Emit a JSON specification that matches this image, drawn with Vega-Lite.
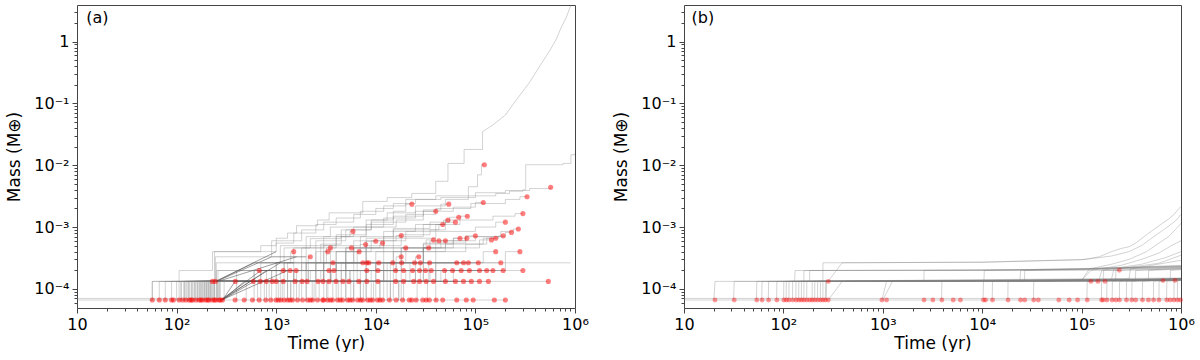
{
"$schema":"https://vega.github.io/schema/vega-lite/v6.json",
"padding":{"left":5,"top":3,"right":0,"bottom":0},
"autosize":{"type":"pad"},
"bounds":"flush",
"spacing":109,
"config":{"font":"DejaVu Sans","view":{"stroke":"#444","strokeWidth":1},
 "axis":{"labelFontSize":16,"titleFontSize":17,"titleFontWeight":"normal","labelColor":"#000","titleColor":"#000","tickColor":"#444","domain":false,"grid":false,"labelPadding":3,"labelFlush":false,"labelOverlap":false,"labelBound":false},
 "axisX":{"titlePadding":3},"axisY":{"titlePadding":10}},
"datasets":{
"sa":[
{"k":0,"t":10,"m":6.6e-5},{"k":0,"t":200000,"m":6.6e-5},
{"k":99,"t":10,"m":7e-5},{"k":99,"t":290,"m":7e-5},
{"k":1,"t":55,"m":6.6e-5},{"k":1,"t":57,"m":1.32e-4},{"k":1,"t":229,"m":1.32e-4},
{"k":2,"t":65,"m":6.6e-5},{"k":2,"t":67,"m":1.32e-4},{"k":2,"t":245,"m":1.32e-4},
{"k":3,"t":75,"m":6.6e-5},{"k":3,"t":77,"m":1.32e-4},{"k":3,"t":389,"m":1.32e-4},
{"k":4,"t":86,"m":6.6e-5},{"k":4,"t":89,"m":1.32e-4},{"k":4,"t":589,"m":1.32e-4},
{"k":5,"t":105,"m":6.6e-5},{"k":5,"t":110,"m":1.32e-4},{"k":5,"t":692,"m":1.32e-4},
{"k":6,"t":112,"m":6.6e-5},{"k":6,"t":118,"m":1.32e-4},{"k":6,"t":794,"m":1.32e-4},
{"k":7,"t":120,"m":6.6e-5},{"k":7,"t":126,"m":1.32e-4},{"k":7,"t":912,"m":1.32e-4},
{"k":8,"t":130,"m":6.6e-5},{"k":8,"t":135,"m":1.32e-4},{"k":8,"t":1000,"m":1.32e-4},
{"k":9,"t":140,"m":6.6e-5},{"k":9,"t":145,"m":1.32e-4},{"k":9,"t":1175,"m":1.32e-4},
{"k":10,"t":150,"m":6.6e-5},{"k":10,"t":155,"m":1.32e-4},{"k":10,"t":1549,"m":1.32e-4},
{"k":11,"t":160,"m":6.6e-5},{"k":11,"t":165,"m":1.32e-4},{"k":11,"t":1820,"m":1.32e-4},
{"k":12,"t":170,"m":6.6e-5},{"k":12,"t":175,"m":1.32e-4},{"k":12,"t":2042,"m":1.32e-4},
{"k":13,"t":180,"m":6.6e-5},{"k":13,"t":185,"m":1.32e-4},{"k":13,"t":2630,"m":1.32e-4},
{"k":14,"t":190,"m":6.6e-5},{"k":14,"t":195,"m":1.32e-4},{"k":14,"t":2951,"m":1.32e-4},
{"k":15,"t":200,"m":6.6e-5},{"k":15,"t":205,"m":1.32e-4},{"k":15,"t":3388,"m":1.32e-4},
{"k":16,"t":210,"m":6.6e-5},{"k":16,"t":215,"m":1.32e-4},{"k":16,"t":3981,"m":1.32e-4},
{"k":17,"t":220,"m":6.6e-5},{"k":17,"t":225,"m":1.32e-4},{"k":17,"t":4677,"m":1.32e-4},
{"k":18,"t":235,"m":6.6e-5},{"k":18,"t":240,"m":1.32e-4},{"k":18,"t":5370,"m":1.32e-4},
{"k":19,"t":250,"m":6.6e-5},{"k":19,"t":255,"m":1.32e-4},{"k":19,"t":6761,"m":1.32e-4},
{"k":20,"t":265,"m":6.6e-5},{"k":20,"t":270,"m":1.32e-4},{"k":20,"t":8128,"m":1.32e-4},
{"k":21,"t":740,"m":6.6e-5},{"k":21,"t":760,"m":1.32e-4},{"k":21,"t":10500,"m":1.32e-4},
{"k":22,"t":1000,"m":6.6e-5},{"k":22,"t":1050,"m":1.32e-4},{"k":22,"t":15800,"m":1.32e-4},
{"k":23,"t":1350,"m":6.6e-5},{"k":23,"t":1400,"m":1.32e-4},{"k":23,"t":19000,"m":1.32e-4},
{"k":24,"t":2200,"m":6.6e-5},{"k":24,"t":2300,"m":1.32e-4},{"k":24,"t":24000,"m":1.32e-4},
{"k":25,"t":3200,"m":6.6e-5},{"k":25,"t":3300,"m":1.32e-4},{"k":25,"t":27500,"m":1.32e-4},
{"k":26,"t":4400,"m":6.6e-5},{"k":26,"t":4500,"m":1.32e-4},{"k":26,"t":32000,"m":1.32e-4},
{"k":27,"t":5800,"m":6.6e-5},{"k":27,"t":6000,"m":1.32e-4},{"k":27,"t":38000,"m":1.32e-4},
{"k":28,"t":7800,"m":6.6e-5},{"k":28,"t":8000,"m":1.32e-4},{"k":28,"t":50000,"m":1.32e-4},
{"k":29,"t":10500,"m":6.6e-5},{"k":29,"t":11000,"m":1.32e-4},{"k":29,"t":63000,"m":1.32e-4},
{"k":30,"t":13500,"m":6.6e-5},{"k":30,"t":14000,"m":1.32e-4},{"k":30,"t":76000,"m":1.32e-4},
{"k":31,"t":18500,"m":6.6e-5},{"k":31,"t":19000,"m":1.32e-4},{"k":31,"t":91000,"m":1.32e-4},
{"k":32,"t":25000,"m":6.6e-5},{"k":32,"t":26000,"m":1.32e-4},{"k":32,"t":110000,"m":1.32e-4},
{"k":33,"t":32000,"m":6.6e-5},{"k":33,"t":33000,"m":1.32e-4},{"k":33,"t":135000,"m":1.32e-4},
{"k":34,"t":39000,"m":6.6e-5},{"k":34,"t":40000,"m":1.32e-4},{"k":34,"t":540000,"m":1.32e-4},
{"k":41,"t":98,"m":6.6e-5},{"k":41,"t":100,"m":1.32e-4},{"k":41,"t":250,"m":1.98e-4},{"k":41,"t":676,"m":1.98e-4},
{"k":42,"t":110,"m":6.6e-5},{"k":42,"t":112,"m":1.32e-4},{"k":42,"t":400,"m":1.98e-4},{"k":42,"t":1175,"m":1.98e-4},
{"k":43,"t":120,"m":6.6e-5},{"k":43,"t":122,"m":1.32e-4},{"k":43,"t":600,"m":1.98e-4},{"k":43,"t":1380,"m":1.98e-4},
{"k":44,"t":130,"m":6.6e-5},{"k":44,"t":132,"m":1.32e-4},{"k":44,"t":700,"m":1.98e-4},{"k":44,"t":1585,"m":1.98e-4},
{"k":45,"t":140,"m":6.6e-5},{"k":45,"t":142,"m":1.32e-4},{"k":45,"t":900,"m":1.98e-4},{"k":45,"t":3388,"m":1.98e-4},
{"k":46,"t":150,"m":6.6e-5},{"k":46,"t":152,"m":1.32e-4},{"k":46,"t":1100,"m":1.98e-4},{"k":46,"t":3800,"m":1.98e-4},
{"k":47,"t":160,"m":6.6e-5},{"k":47,"t":162,"m":1.32e-4},{"k":47,"t":1600,"m":1.98e-4},{"k":47,"t":8128,"m":1.98e-4},
{"k":48,"t":170,"m":6.6e-5},{"k":48,"t":172,"m":1.32e-4},{"k":48,"t":2100,"m":1.98e-4},{"k":48,"t":10500,"m":1.98e-4},
{"k":49,"t":185,"m":6.6e-5},{"k":49,"t":190,"m":1.32e-4},{"k":49,"t":2800,"m":1.98e-4},{"k":49,"t":15800,"m":1.98e-4},
{"k":50,"t":205,"m":6.6e-5},{"k":50,"t":210,"m":1.32e-4},{"k":50,"t":3600,"m":1.98e-4},{"k":50,"t":19000,"m":1.98e-4},
{"k":51,"t":225,"m":6.6e-5},{"k":51,"t":230,"m":1.32e-4},{"k":51,"t":4500,"m":1.98e-4},{"k":51,"t":23400,"m":1.98e-4},
{"k":52,"t":630,"m":6.6e-5},{"k":52,"t":650,"m":1.32e-4},{"k":52,"t":5500,"m":1.98e-4},{"k":52,"t":27500,"m":1.98e-4},
{"k":53,"t":830,"m":6.6e-5},{"k":53,"t":850,"m":1.32e-4},{"k":53,"t":7000,"m":1.98e-4},{"k":53,"t":31600,"m":1.98e-4},
{"k":54,"t":1100,"m":6.6e-5},{"k":54,"t":1150,"m":1.32e-4},{"k":54,"t":9000,"m":1.98e-4},{"k":54,"t":36000,"m":1.98e-4},
{"k":55,"t":1650,"m":6.6e-5},{"k":55,"t":1700,"m":1.32e-4},{"k":55,"t":12000,"m":1.98e-4},{"k":55,"t":49000,"m":1.98e-4},
{"k":56,"t":2300,"m":6.6e-5},{"k":56,"t":2400,"m":1.32e-4},{"k":56,"t":15000,"m":1.98e-4},{"k":56,"t":59000,"m":1.98e-4},
{"k":57,"t":3100,"m":6.6e-5},{"k":57,"t":3200,"m":1.32e-4},{"k":57,"t":20000,"m":1.98e-4},{"k":57,"t":72000,"m":1.98e-4},
{"k":58,"t":4100,"m":6.6e-5},{"k":58,"t":4200,"m":1.32e-4},{"k":58,"t":25000,"m":1.98e-4},{"k":58,"t":87000,"m":1.98e-4},
{"k":59,"t":5400,"m":6.6e-5},{"k":59,"t":5600,"m":1.32e-4},{"k":59,"t":30000,"m":1.98e-4},{"k":59,"t":110000,"m":1.98e-4},
{"k":60,"t":7300,"m":6.6e-5},{"k":60,"t":7500,"m":1.32e-4},{"k":60,"t":35000,"m":1.98e-4},{"k":60,"t":130000,"m":1.98e-4},
{"k":61,"t":9200,"m":6.6e-5},{"k":61,"t":9500,"m":1.32e-4},{"k":61,"t":40000,"m":1.98e-4},{"k":61,"t":150000,"m":1.98e-4},
{"k":62,"t":12500,"m":6.6e-5},{"k":62,"t":13000,"m":1.32e-4},{"k":62,"t":45000,"m":1.98e-4},{"k":62,"t":190000,"m":1.98e-4},
{"k":63,"t":16500,"m":6.6e-5},{"k":63,"t":17000,"m":1.32e-4},{"k":63,"t":50000,"m":1.98e-4},{"k":63,"t":300000,"m":1.98e-4},
{"k":71,"t":175,"m":6.6e-5},{"k":71,"t":180,"m":1.32e-4},{"k":71,"t":1800,"m":2.64e-4},{"k":71,"t":3715,"m":2.64e-4},
{"k":72,"t":195,"m":6.6e-5},{"k":72,"t":200,"m":1.32e-4},{"k":72,"t":2500,"m":2.64e-4},{"k":72,"t":7413,"m":2.64e-4},
{"k":73,"t":215,"m":6.6e-5},{"k":73,"t":220,"m":1.32e-4},{"k":73,"t":3000,"m":2.64e-4},{"k":73,"t":8128,"m":2.64e-4},
{"k":74,"t":235,"m":6.6e-5},{"k":74,"t":240,"m":1.32e-4},{"k":74,"t":3500,"m":2.64e-4},{"k":74,"t":8511,"m":2.64e-4},
{"k":75,"t":255,"m":6.6e-5},{"k":75,"t":260,"m":1.32e-4},{"k":75,"t":4000,"m":2.64e-4},{"k":75,"t":10700,"m":2.64e-4},
{"k":76,"t":1250,"m":6.6e-5},{"k":76,"t":1300,"m":1.32e-4},{"k":76,"t":5000,"m":2.64e-4},{"k":76,"t":14800,"m":2.64e-4},
{"k":77,"t":1900,"m":6.6e-5},{"k":77,"t":2000,"m":1.32e-4},{"k":77,"t":6500,"m":2.64e-4},{"k":77,"t":18200,"m":2.64e-4},
{"k":78,"t":2600,"m":6.6e-5},{"k":78,"t":2700,"m":1.32e-4},{"k":78,"t":8000,"m":2.64e-4},{"k":78,"t":24500,"m":2.64e-4},
{"k":79,"t":3600,"m":6.6e-5},{"k":79,"t":3700,"m":1.32e-4},{"k":79,"t":10000,"m":2.64e-4},{"k":79,"t":28000,"m":2.64e-4},
{"k":80,"t":4800,"m":6.6e-5},{"k":80,"t":5000,"m":1.32e-4},{"k":80,"t":13000,"m":2.64e-4},{"k":80,"t":34700,"m":2.64e-4},
{"k":81,"t":6800,"m":6.6e-5},{"k":81,"t":7000,"m":1.32e-4},{"k":81,"t":18000,"m":2.64e-4},{"k":81,"t":65000,"m":2.64e-4},
{"k":82,"t":8800,"m":6.6e-5},{"k":82,"t":9000,"m":1.32e-4},{"k":82,"t":22000,"m":2.64e-4},{"k":82,"t":76000,"m":2.64e-4},
{"k":83,"t":10500,"m":6.6e-5},{"k":83,"t":11000,"m":1.32e-4},{"k":83,"t":28000,"m":2.64e-4},{"k":83,"t":85000,"m":2.64e-4},
{"k":84,"t":13500,"m":6.6e-5},{"k":84,"t":14000,"m":1.32e-4},{"k":84,"t":34000,"m":2.64e-4},{"k":84,"t":107000,"m":2.64e-4},
{"k":85,"t":17500,"m":6.6e-5},{"k":85,"t":18000,"m":1.32e-4},{"k":85,"t":40000,"m":2.64e-4},{"k":85,"t":180000,"m":2.64e-4},
{"k":101,"t":54,"m":6.6e-5},{"k":101,"t":57,"m":1.32e-4},{"k":101,"t":106,"m":1.98e-4},{"k":101,"t":229,"m":4e-4},{"k":101,"t":700,"m":5e-4},{"k":101,"t":1000,"m":6.6e-4},{"k":101,"t":1300,"m":8e-4},{"k":101,"t":1600,"m":1.05e-3},{"k":101,"t":2600,"m":1.3e-3},{"k":101,"t":3400,"m":1.7e-3},{"k":101,"t":7400,"m":2.6e-3},{"k":101,"t":13000,"m":3e-3},{"k":101,"t":23000,"m":3.5e-3},{"k":101,"t":40000,"m":5.5e-3},{"k":101,"t":53000,"m":1.07e-2},{"k":101,"t":77000,"m":1.8e-2},{"k":101,"t":118000,"m":3.5e-2},
{"k":102,"t":100,"m":6.6e-5},{"k":102,"t":106,"m":1.32e-4},{"k":102,"t":240,"m":4e-4},{"k":102,"t":1000,"m":5.5e-4},{"k":102,"t":1500,"m":8e-4},{"k":102,"t":2500,"m":1.1e-3},{"k":102,"t":4000,"m":1.4e-3},{"k":102,"t":7000,"m":1.8e-3},{"k":102,"t":12000,"m":2.2e-3},{"k":102,"t":20000,"m":2.8e-3},{"k":102,"t":40000,"m":3.2e-3},{"k":102,"t":160000,"m":3.5e-3},{"k":102,"t":220000,"m":3.8e-3},{"k":102,"t":300000,"m":4e-3},{"k":102,"t":320000,"m":1.02e-2},{"k":102,"t":760000,"m":1.07e-2},{"k":102,"t":910000,"m":1.48e-2},{"k":102,"t":1000000,"m":1.55e-2},
{"k":103,"t":115,"m":6.6e-5},{"k":103,"t":120,"m":1.32e-4},{"k":103,"t":245,"m":3.3e-4},{"k":103,"t":900,"m":6e-4},{"k":103,"t":1800,"m":9e-4},{"k":103,"t":3000,"m":1.2e-3},{"k":103,"t":6000,"m":1.6e-3},{"k":103,"t":10000,"m":2e-3},{"k":103,"t":15000,"m":2.4e-3},{"k":103,"t":25000,"m":2.8e-3},{"k":103,"t":45000,"m":3e-3},{"k":103,"t":100000,"m":3.6e-3},{"k":103,"t":200000,"m":3.9e-3},{"k":103,"t":350000,"m":4.2e-3},{"k":103,"t":570000,"m":4.4e-3},
{"k":104,"t":135,"m":6.6e-5},{"k":104,"t":140,"m":1.32e-4},{"k":104,"t":250,"m":2.64e-4},{"k":104,"t":1100,"m":5e-4},{"k":104,"t":2000,"m":7e-4},{"k":104,"t":3500,"m":1e-3},{"k":104,"t":8000,"m":1.3e-3},{"k":104,"t":13000,"m":1.7e-3},{"k":104,"t":25000,"m":2.2e-3},{"k":104,"t":50000,"m":2.8e-3},{"k":104,"t":85000,"m":4.5e-3},{"k":104,"t":105000,"m":7e-3},{"k":104,"t":115000,"m":1.02e-2},{"k":104,"t":123000,"m":1.02e-2},
{"k":105,"t":155,"m":6.6e-5},{"k":105,"t":160,"m":1.32e-4},{"k":105,"t":260,"m":1.98e-4},{"k":105,"t":1200,"m":4.6e-4},{"k":105,"t":2200,"m":6.5e-4},{"k":105,"t":4500,"m":9e-4},{"k":105,"t":9000,"m":1.2e-3},{"k":105,"t":20000,"m":1.6e-3},{"k":105,"t":40000,"m":2e-3},{"k":105,"t":90000,"m":2.4e-3},{"k":105,"t":200000,"m":2.8e-3},{"k":105,"t":280000,"m":3.1e-3},{"k":105,"t":330000,"m":3.1e-3},
{"k":106,"t":175,"m":6.6e-5},{"k":106,"t":180,"m":1.32e-4},{"k":106,"t":700,"m":2.64e-4},{"k":106,"t":1500,"m":4.6e-4},{"k":106,"t":3000,"m":7e-4},{"k":106,"t":6000,"m":1e-3},{"k":106,"t":12000,"m":1.4e-3},{"k":106,"t":25000,"m":1.8e-3},{"k":106,"t":60000,"m":2.1e-3},{"k":106,"t":100000,"m":2.5e-3},{"k":106,"t":120000,"m":2.5e-3},
{"k":107,"t":195,"m":6.6e-5},{"k":107,"t":200,"m":1.32e-4},{"k":107,"t":900,"m":1.98e-4},{"k":107,"t":2000,"m":5e-4},{"k":107,"t":4000,"m":7.5e-4},{"k":107,"t":8000,"m":1.1e-3},{"k":107,"t":15000,"m":1.5e-3},{"k":107,"t":30000,"m":1.9e-3},{"k":107,"t":45000,"m":2.35e-3},{"k":107,"t":54000,"m":2.35e-3},
{"k":108,"t":215,"m":6.6e-5},{"k":108,"t":220,"m":1.32e-4},{"k":108,"t":1000,"m":2.64e-4},{"k":108,"t":2500,"m":6e-4},{"k":108,"t":5000,"m":9e-4},{"k":108,"t":9000,"m":1.3e-3},{"k":108,"t":15000,"m":1.8e-3},{"k":108,"t":20000,"m":2.35e-3},{"k":108,"t":23000,"m":2.35e-3},
{"k":109,"t":290,"m":6.6e-5},{"k":109,"t":300,"m":1.32e-4},{"k":109,"t":1500,"m":2.64e-4},{"k":109,"t":3500,"m":4.6e-4},{"k":109,"t":8000,"m":6.6e-4},{"k":109,"t":15000,"m":9e-4},{"k":109,"t":30000,"m":1.1e-3},{"k":109,"t":70000,"m":1.3e-3},{"k":109,"t":150000,"m":1.5e-3},{"k":109,"t":250000,"m":1.65e-3},{"k":109,"t":300000,"m":1.65e-3},
{"k":110,"t":125,"m":6.6e-5},{"k":110,"t":130,"m":1.32e-4},{"k":110,"t":600,"m":1.98e-4},{"k":110,"t":1800,"m":4.6e-4},{"k":110,"t":4000,"m":7e-4},{"k":110,"t":8000,"m":1e-3},{"k":110,"t":16000,"m":1.3e-3},{"k":110,"t":30000,"m":1.8e-3},{"k":110,"t":40000,"m":1.8e-3},
{"k":111,"t":145,"m":6.6e-5},{"k":111,"t":150,"m":1.32e-4},{"k":111,"t":800,"m":1.98e-4},{"k":111,"t":2500,"m":4e-4},{"k":111,"t":6000,"m":6e-4},{"k":111,"t":12000,"m":8.5e-4},{"k":111,"t":25000,"m":1.1e-3},{"k":111,"t":50000,"m":1.3e-3},{"k":111,"t":70000,"m":1.5e-3},{"k":111,"t":83000,"m":1.5e-3},
{"k":112,"t":165,"m":6.6e-5},{"k":112,"t":170,"m":1.32e-4},{"k":112,"t":1200,"m":2.64e-4},{"k":112,"t":3000,"m":5e-4},{"k":112,"t":7000,"m":7e-4},{"k":112,"t":15000,"m":9.5e-4},{"k":112,"t":35000,"m":1.2e-3},{"k":112,"t":55000,"m":1.44e-3},{"k":112,"t":68000,"m":1.44e-3},
{"k":113,"t":185,"m":6.6e-5},{"k":113,"t":190,"m":1.32e-4},{"k":113,"t":1500,"m":1.98e-4},{"k":113,"t":4000,"m":4e-4},{"k":113,"t":9000,"m":6e-4},{"k":113,"t":20000,"m":8.5e-4},{"k":113,"t":40000,"m":1.1e-3},{"k":113,"t":48000,"m":1.3e-3},{"k":113,"t":53000,"m":1.3e-3},
{"k":114,"t":205,"m":6.6e-5},{"k":114,"t":210,"m":1.32e-4},{"k":114,"t":2000,"m":2.64e-4},{"k":114,"t":6000,"m":4.6e-4},{"k":114,"t":15000,"m":6.6e-4},{"k":114,"t":40000,"m":8.5e-4},{"k":114,"t":100000,"m":1e-3},{"k":114,"t":160000,"m":1.2e-3},{"k":114,"t":200000,"m":1.2e-3},
{"k":115,"t":230,"m":6.6e-5},{"k":115,"t":235,"m":1.32e-4},{"k":115,"t":2200,"m":1.98e-4},{"k":115,"t":5000,"m":4.6e-4},{"k":115,"t":12000,"m":7e-4},{"k":115,"t":30000,"m":9e-4},{"k":115,"t":50000,"m":1.2e-3},{"k":115,"t":63000,"m":1.2e-3},
{"k":116,"t":250,"m":6.6e-5},{"k":116,"t":255,"m":1.32e-4},{"k":116,"t":3000,"m":2.64e-4},{"k":116,"t":8000,"m":5e-4},{"k":116,"t":18000,"m":7.5e-4},{"k":116,"t":35000,"m":9e-4},{"k":116,"t":43000,"m":1.1e-3},{"k":116,"t":47000,"m":1.1e-3},
{"k":117,"t":270,"m":6.6e-5},{"k":117,"t":275,"m":1.32e-4},{"k":117,"t":3500,"m":1.98e-4},{"k":117,"t":10000,"m":4e-4},{"k":117,"t":30000,"m":5.5e-4},{"k":117,"t":80000,"m":7e-4},{"k":117,"t":180000,"m":8.5e-4},{"k":117,"t":240000,"m":9.3e-4},{"k":117,"t":270000,"m":9.3e-4},
{"k":118,"t":1050,"m":6.6e-5},{"k":118,"t":1100,"m":1.32e-4},{"k":118,"t":4000,"m":2.64e-4},{"k":118,"t":12000,"m":4.6e-4},{"k":118,"t":40000,"m":6e-4},{"k":118,"t":100000,"m":7e-4},{"k":118,"t":200000,"m":8.2e-4},{"k":118,"t":230000,"m":8.2e-4},
{"k":119,"t":260,"m":6.6e-5},{"k":119,"t":265,"m":1.32e-4},{"k":119,"t":1300,"m":2.64e-4},{"k":119,"t":2800,"m":5.3e-4},{"k":119,"t":4500,"m":7e-4},{"k":119,"t":5500,"m":8.5e-4},{"k":119,"t":5900,"m":8.5e-4},
{"k":120,"t":1450,"m":6.6e-5},{"k":120,"t":1500,"m":1.32e-4},{"k":120,"t":5000,"m":1.98e-4},{"k":120,"t":15000,"m":4e-4},{"k":120,"t":50000,"m":5.3e-4},{"k":120,"t":120000,"m":6.6e-4},{"k":120,"t":170000,"m":7.2e-4},{"k":120,"t":190000,"m":7.2e-4},
{"k":121,"t":1750,"m":6.6e-5},{"k":121,"t":1800,"m":1.32e-4},{"k":121,"t":6000,"m":2.64e-4},{"k":121,"t":20000,"m":4.6e-4},{"k":121,"t":50000,"m":6e-4},{"k":121,"t":80000,"m":7.2e-4},{"k":121,"t":100000,"m":7.2e-4},
{"k":122,"t":780,"m":6.6e-5},{"k":122,"t":800,"m":1.32e-4},{"k":122,"t":3000,"m":2.64e-4},{"k":122,"t":6000,"m":4.6e-4},{"k":122,"t":12000,"m":6e-4},{"k":122,"t":16000,"m":7.3e-4},{"k":122,"t":18000,"m":7.3e-4},
{"k":123,"t":2400,"m":6.6e-5},{"k":123,"t":2500,"m":1.32e-4},{"k":123,"t":8000,"m":1.98e-4},{"k":123,"t":30000,"m":4e-4},{"k":123,"t":80000,"m":5.3e-4},{"k":123,"t":130000,"m":6.6e-4},{"k":123,"t":160000,"m":6.6e-4},
{"k":124,"t":2900,"m":6.6e-5},{"k":124,"t":3000,"m":1.32e-4},{"k":124,"t":10000,"m":2.64e-4},{"k":124,"t":40000,"m":4.6e-4},{"k":124,"t":110000,"m":6.2e-4},{"k":124,"t":145000,"m":6.2e-4},
{"k":125,"t":3900,"m":6.6e-5},{"k":125,"t":4000,"m":1.32e-4},{"k":125,"t":12000,"m":2.64e-4},{"k":125,"t":30000,"m":4.6e-4},{"k":125,"t":60000,"m":6.6e-4},{"k":125,"t":82000,"m":6.6e-4},
{"k":126,"t":580,"m":6.6e-5},{"k":126,"t":600,"m":1.32e-4},{"k":126,"t":2500,"m":1.98e-4},{"k":126,"t":8000,"m":4e-4},{"k":126,"t":30000,"m":5.3e-4},{"k":126,"t":60000,"m":6.6e-4},{"k":126,"t":70000,"m":6.6e-4},
{"k":127,"t":4900,"m":6.6e-5},{"k":127,"t":5000,"m":1.32e-4},{"k":127,"t":14000,"m":2.64e-4},{"k":127,"t":30000,"m":4.6e-4},{"k":127,"t":45000,"m":6e-4},{"k":127,"t":50000,"m":6e-4},
{"k":128,"t":680,"m":6.6e-5},{"k":128,"t":700,"m":1.32e-4},{"k":128,"t":4500,"m":2.64e-4},{"k":128,"t":15000,"m":4.6e-4},{"k":128,"t":35000,"m":6e-4},{"k":128,"t":43000,"m":6e-4},
{"k":129,"t":880,"m":6.6e-5},{"k":129,"t":900,"m":1.32e-4},{"k":129,"t":5500,"m":1.98e-4},{"k":129,"t":18000,"m":4.6e-4},{"k":129,"t":32000,"m":6.2e-4},{"k":129,"t":38000,"m":6.2e-4},
{"k":130,"t":480,"m":6.6e-5},{"k":130,"t":500,"m":1.32e-4},{"k":130,"t":1500,"m":1.98e-4},{"k":130,"t":4000,"m":4e-4},{"k":130,"t":8000,"m":5.9e-4},{"k":130,"t":10000,"m":5.9e-4},
{"k":131,"t":980,"m":6.6e-5},{"k":131,"t":1000,"m":1.32e-4},{"k":131,"t":3500,"m":2.64e-4},{"k":131,"t":8000,"m":4.6e-4},{"k":131,"t":11000,"m":5.5e-4},{"k":131,"t":11700,"m":5.5e-4},
{"k":132,"t":390,"m":6.6e-5},{"k":132,"t":400,"m":1.32e-4},{"k":132,"t":2000,"m":2.64e-4},{"k":132,"t":5000,"m":4e-4},{"k":132,"t":7000,"m":5.2e-4},{"k":132,"t":7900,"m":5.2e-4},
{"k":133,"t":1180,"m":6.6e-5},{"k":133,"t":1200,"m":1.32e-4},{"k":133,"t":2500,"m":2.64e-4},{"k":133,"t":3200,"m":4.6e-4},{"k":133,"t":3500,"m":4.6e-4},
{"k":134,"t":1380,"m":6.6e-5},{"k":134,"t":1400,"m":1.32e-4},{"k":134,"t":3000,"m":1.98e-4},{"k":134,"t":5000,"m":4.6e-4},{"k":134,"t":5700,"m":4.6e-4},
{"k":135,"t":5900,"m":6.6e-5},{"k":135,"t":6000,"m":1.32e-4},{"k":135,"t":12000,"m":2.64e-4},{"k":135,"t":18000,"m":4.6e-4},{"k":135,"t":20000,"m":4.6e-4},
{"k":136,"t":6900,"m":6.6e-5},{"k":136,"t":7000,"m":1.32e-4},{"k":136,"t":16000,"m":2.64e-4},{"k":136,"t":30000,"m":4.6e-4},{"k":136,"t":34000,"m":4.6e-4},
{"k":137,"t":240,"m":6.6e-5},{"k":137,"t":250,"m":1.32e-4},{"k":137,"t":1000,"m":2.64e-4},{"k":137,"t":1400,"m":4e-4},{"k":137,"t":1500,"m":4e-4},
{"k":138,"t":1250,"m":6.6e-5},{"k":138,"t":1300,"m":1.98e-4},{"k":138,"t":3000,"m":4e-4},{"k":138,"t":3300,"m":4e-4},
{"k":139,"t":1950,"m":6.6e-5},{"k":139,"t":2000,"m":1.32e-4},{"k":139,"t":5000,"m":2.64e-4},{"k":139,"t":6500,"m":4e-4},{"k":139,"t":6800,"m":4e-4},
{"k":140,"t":9800,"m":6.6e-5},{"k":140,"t":10000,"m":1.32e-4},{"k":140,"t":40000,"m":2.64e-4},{"k":140,"t":120000,"m":4e-4},{"k":140,"t":160000,"m":4e-4},
{"k":141,"t":14500,"m":6.6e-5},{"k":141,"t":15000,"m":1.32e-4},{"k":141,"t":60000,"m":1.98e-4},{"k":141,"t":200000,"m":4e-4},{"k":141,"t":280000,"m":4e-4},
{"k":142,"t":1550,"m":6.6e-5},{"k":142,"t":1600,"m":1.32e-4},{"k":142,"t":2100,"m":3.3e-4},{"k":142,"t":2200,"m":3.3e-4},
{"k":143,"t":7800,"m":6.6e-5},{"k":143,"t":8000,"m":1.98e-4},{"k":143,"t":16000,"m":3.3e-4},{"k":143,"t":18000,"m":3.3e-4},
{"k":144,"t":11500,"m":6.6e-5},{"k":144,"t":12000,"m":1.32e-4},{"k":144,"t":25000,"m":3.3e-4},{"k":144,"t":27000,"m":3.3e-4},
{"k":145,"t":16500,"m":6.6e-5},{"k":145,"t":17000,"m":1.32e-4},{"k":145,"t":30000,"m":2.64e-4},{"k":145,"t":900000,"m":2.64e-4}
],
"da":[
{"k":1,"t":289,"m":6.6e-5},{"k":1,"t":387,"m":1.32e-4},{"k":1,"t":800,"m":1.32e-4},
{"k":2,"t":288,"m":6.6e-5},{"k":2,"t":480,"m":1.32e-4},{"k":2,"t":1200,"m":1.32e-4},
{"k":3,"t":285,"m":6.6e-5},{"k":3,"t":600,"m":1.32e-4},
{"k":4,"t":280,"m":6.6e-5},{"k":4,"t":700,"m":1.98e-4},{"k":4,"t":1500,"m":1.98e-4},
{"k":5,"t":287,"m":6.6e-5},{"k":5,"t":800,"m":1.98e-4},
{"k":6,"t":250,"m":1.32e-4},{"k":6,"t":600,"m":2.64e-4},{"k":6,"t":1500,"m":2.64e-4},
{"k":7,"t":252,"m":1.32e-4},{"k":7,"t":900,"m":3.3e-4},{"k":7,"t":2000,"m":3.3e-4},
{"k":8,"t":275,"m":6.6e-5},{"k":8,"t":1100,"m":2.64e-4},
{"k":9,"t":245,"m":1.32e-4},{"k":9,"t":1000,"m":4e-4},
{"k":10,"t":283,"m":6.6e-5},{"k":10,"t":1300,"m":1.98e-4},
{"k":11,"t":260,"m":1.32e-4},{"k":11,"t":1600,"m":3.3e-4}
],
"ca":[
{"t":118000,"m":0.035},{"t":150000,"m":0.045},{"t":200000,"m":0.065},{"t":250000,"m":0.107},{"t":350000,"m":0.22},{"t":450000,"m":0.42},{"t":550000,"m":0.69},{"t":650000,"m":1.1},{"t":720000,"m":1.64},{"t":820000,"m":2.5},{"t":910000,"m":3.9},{"t":940000,"m":4.6}
],
"pa":[
{"t":57,"m":6.6e-5},{"t":67,"m":6.6e-5},{"t":77,"m":6.6e-5},{"t":89,"m":6.6e-5},{"t":93,"m":6.6e-5},{"t":106,"m":6.6e-5},{"t":115,"m":6.6e-5},{"t":124,"m":6.6e-5},{"t":134,"m":6.6e-5},{"t":140,"m":6.6e-5},{"t":144,"m":6.6e-5},{"t":156,"m":6.6e-5},{"t":168,"m":6.6e-5},{"t":175,"m":6.6e-5},{"t":182,"m":6.6e-5},{"t":196,"m":6.6e-5},{"t":205,"m":6.6e-5},{"t":212,"m":6.6e-5},{"t":229,"m":6.6e-5},{"t":240,"m":6.6e-5},{"t":248,"m":6.6e-5},{"t":267,"m":6.6e-5},{"t":275,"m":6.6e-5},{"t":289,"m":6.6e-5},{"t":387,"m":6.6e-5},{"t":477,"m":6.6e-5},{"t":578,"m":6.6e-5},{"t":675,"m":6.6e-5},{"t":787,"m":6.6e-5},{"t":883,"m":6.6e-5},{"t":993,"m":6.6e-5},{"t":1050,"m":6.6e-5},{"t":1114,"m":6.6e-5},{"t":1203,"m":6.6e-5},{"t":1300,"m":6.6e-5},{"t":1380,"m":6.6e-5},{"t":1459,"m":6.6e-5},{"t":1637,"m":6.6e-5},{"t":1840,"m":6.6e-5},{"t":2065,"m":6.6e-5},{"t":2200,"m":6.6e-5},{"t":2317,"m":6.6e-5},{"t":2600,"m":6.6e-5},{"t":2923,"m":6.6e-5},{"t":3000,"m":6.6e-5},{"t":3280,"m":6.6e-5},{"t":3500,"m":6.6e-5},{"t":3680,"m":6.6e-5},{"t":4130,"m":6.6e-5},{"t":4400,"m":6.6e-5},{"t":4640,"m":6.6e-5},{"t":5210,"m":6.6e-5},{"t":5500,"m":6.6e-5},{"t":5850,"m":6.6e-5},{"t":6560,"m":6.6e-5},{"t":7000,"m":6.6e-5},{"t":7380,"m":6.6e-5},{"t":8280,"m":6.6e-5},{"t":8800,"m":6.6e-5},{"t":9290,"m":6.6e-5},{"t":10400,"m":6.6e-5},{"t":11000,"m":6.6e-5},{"t":11700,"m":6.6e-5},{"t":13700,"m":6.6e-5},{"t":16000,"m":6.6e-5},{"t":18600,"m":6.6e-5},{"t":21700,"m":6.6e-5},{"t":23000,"m":6.6e-5},{"t":25400,"m":6.6e-5},{"t":29600,"m":6.6e-5},{"t":32000,"m":6.6e-5},{"t":34500,"m":6.6e-5},{"t":40300,"m":6.6e-5},{"t":47000,"m":6.6e-5},{"t":65000,"m":6.6e-5},{"t":81000,"m":6.6e-5},{"t":95000,"m":6.6e-5},{"t":155000,"m":6.6e-5},{"t":200000,"m":6.6e-5},
{"t":229,"m":1.32e-4},{"t":245,"m":1.32e-4},{"t":389,"m":1.32e-4},{"t":589,"m":1.32e-4},{"t":692,"m":1.32e-4},{"t":794,"m":1.32e-4},{"t":912,"m":1.32e-4},{"t":1000,"m":1.32e-4},{"t":1175,"m":1.32e-4},{"t":1549,"m":1.32e-4},{"t":1820,"m":1.32e-4},{"t":2042,"m":1.32e-4},{"t":2630,"m":1.32e-4},{"t":2951,"m":1.32e-4},{"t":3388,"m":1.32e-4},{"t":3981,"m":1.32e-4},{"t":4677,"m":1.32e-4},{"t":5370,"m":1.32e-4},{"t":6761,"m":1.32e-4},{"t":8128,"m":1.32e-4},{"t":10500,"m":1.32e-4},{"t":15800,"m":1.32e-4},{"t":19000,"m":1.32e-4},{"t":24000,"m":1.32e-4},{"t":27500,"m":1.32e-4},{"t":32000,"m":1.32e-4},{"t":38000,"m":1.32e-4},{"t":50000,"m":1.32e-4},{"t":63000,"m":1.32e-4},{"t":76000,"m":1.32e-4},{"t":91000,"m":1.32e-4},{"t":110000,"m":1.32e-4},{"t":135000,"m":1.32e-4},{"t":540000,"m":1.32e-4},
{"t":676,"m":1.98e-4},{"t":1175,"m":1.98e-4},{"t":1380,"m":1.98e-4},{"t":1585,"m":1.98e-4},{"t":3388,"m":1.98e-4},{"t":3800,"m":1.98e-4},{"t":8128,"m":1.98e-4},{"t":10500,"m":1.98e-4},{"t":15800,"m":1.98e-4},{"t":19000,"m":1.98e-4},{"t":23400,"m":1.98e-4},{"t":27500,"m":1.98e-4},{"t":31600,"m":1.98e-4},{"t":36000,"m":1.98e-4},{"t":49000,"m":1.98e-4},{"t":59000,"m":1.98e-4},{"t":72000,"m":1.98e-4},{"t":87000,"m":1.98e-4},{"t":110000,"m":1.98e-4},{"t":130000,"m":1.98e-4},{"t":150000,"m":1.98e-4},{"t":190000,"m":1.98e-4},{"t":300000,"m":1.98e-4},
{"t":3715,"m":2.64e-4},{"t":7413,"m":2.64e-4},{"t":8128,"m":2.64e-4},{"t":8511,"m":2.64e-4},{"t":10700,"m":2.64e-4},{"t":14800,"m":2.64e-4},{"t":18200,"m":2.64e-4},{"t":24500,"m":2.64e-4},{"t":28000,"m":2.64e-4},{"t":34700,"m":2.64e-4},{"t":65000,"m":2.64e-4},{"t":76000,"m":2.64e-4},{"t":85000,"m":2.64e-4},{"t":107000,"m":2.64e-4},{"t":180000,"m":2.64e-4},
{"t":2200,"m":3.3e-4},{"t":18000,"m":3.3e-4},{"t":27000,"m":3.3e-4},{"t":1500,"m":4e-4},{"t":3300,"m":4e-4},{"t":6800,"m":4e-4},{"t":160000,"m":4e-4},{"t":280000,"m":4e-4},{"t":3500,"m":4.6e-4},{"t":5700,"m":4.6e-4},{"t":20000,"m":4.6e-4},{"t":34000,"m":4.6e-4},{"t":7900,"m":5.2e-4},{"t":11700,"m":5.5e-4},{"t":10000,"m":5.9e-4},{"t":50000,"m":6e-4},{"t":43000,"m":6e-4},{"t":38000,"m":6.2e-4},{"t":145000,"m":6.2e-4},{"t":82000,"m":6.6e-4},{"t":70000,"m":6.6e-4},{"t":160000,"m":6.6e-4},{"t":100000,"m":7.2e-4},{"t":190000,"m":7.2e-4},{"t":18000,"m":7.3e-4},{"t":230000,"m":8.2e-4},{"t":5900,"m":8.5e-4},{"t":270000,"m":9.3e-4},{"t":47000,"m":1.1e-3},{"t":63000,"m":1.2e-3},{"t":200000,"m":1.2e-3},{"t":53000,"m":1.3e-3},{"t":68000,"m":1.44e-3},{"t":83000,"m":1.5e-3},{"t":300000,"m":1.65e-3},{"t":40000,"m":1.8e-3},{"t":23000,"m":2.35e-3},{"t":54000,"m":2.35e-3},{"t":120000,"m":2.5e-3},{"t":330000,"m":3.1e-3},{"t":570000,"m":4.4e-3},{"t":123000,"m":1.02e-2}
],
"lb":[
{"k":0,"t":10,"m":6.6e-5},{"k":0,"t":1000000,"m":6.6e-5},
{"k":99,"t":10,"m":7e-5},{"k":99,"t":1000000,"m":7e-5},
{"k":1,"t":20,"m":6.6e-5},{"k":1,"t":20.5,"m":1.32e-4},{"k":1,"t":10000,"m":1.33e-4},{"k":1,"t":100000,"m":1.36e-4},{"k":1,"t":1000000,"m":1.48e-4},
{"k":2,"t":31.5,"m":6.6e-5},{"k":2,"t":32,"m":1.32e-4},{"k":2,"t":100000,"m":1.35e-4},{"k":2,"t":1000000,"m":1.44e-4},
{"k":3,"t":53.5,"m":6.6e-5},{"k":3,"t":54,"m":1.32e-4},{"k":3,"t":100000,"m":1.35e-4},{"k":3,"t":1000000,"m":1.42e-4},
{"k":4,"t":60.5,"m":6.6e-5},{"k":4,"t":61,"m":1.32e-4},{"k":4,"t":200000,"m":1.37e-4},{"k":4,"t":1000000,"m":1.4e-4},
{"k":5,"t":70.5,"m":6.6e-5},{"k":5,"t":71,"m":1.32e-4},{"k":5,"t":1000000,"m":1.38e-4},
{"k":6,"t":85.5,"m":6.6e-5},{"k":6,"t":86,"m":1.32e-4},{"k":6,"t":1000000,"m":1.46e-4},
{"k":7,"t":100.5,"m":6.6e-5},{"k":7,"t":101,"m":1.32e-4},{"k":7,"t":1000000,"m":1.5e-4},
{"k":8,"t":106.5,"m":6.6e-5},{"k":8,"t":107,"m":1.32e-4},{"k":8,"t":124000,"m":1.32e-4},
{"k":9,"t":113.5,"m":6.6e-5},{"k":9,"t":114,"m":1.32e-4},{"k":9,"t":146000,"m":1.33e-4},
{"k":10,"t":123.5,"m":6.6e-5},{"k":10,"t":124,"m":1.32e-4},{"k":10,"t":172000,"m":1.33e-4},
{"k":11,"t":133.5,"m":6.6e-5},{"k":11,"t":134,"m":1.32e-4},{"k":11,"t":660000,"m":1.36e-4},
{"k":12,"t":142.5,"m":6.6e-5},{"k":12,"t":143,"m":1.32e-4},{"k":12,"t":870000,"m":1.37e-4},
{"k":13,"t":120,"m":1.32e-4},{"k":13,"t":130,"m":1.32e-4},{"k":13,"t":131,"m":1.98e-4},{"k":13,"t":10000,"m":2e-4},{"k":13,"t":100000,"m":2.1e-4},{"k":13,"t":1000000,"m":2.4e-4},
{"k":14,"t":151.5,"m":6.6e-5},{"k":14,"t":152,"m":1.32e-4},{"k":14,"t":160.5,"m":1.32e-4},{"k":14,"t":161,"m":1.98e-4},{"k":14,"t":100000,"m":2.05e-4},{"k":14,"t":1000000,"m":2.25e-4},
{"k":15,"t":171.5,"m":6.6e-5},{"k":15,"t":172,"m":1.32e-4},{"k":15,"t":183.5,"m":1.32e-4},{"k":15,"t":184,"m":1.98e-4},{"k":15,"t":240000,"m":2e-4},
{"k":16,"t":194.5,"m":6.6e-5},{"k":16,"t":195,"m":1.32e-4},{"k":16,"t":2590,"m":1.32e-4},{"k":16,"t":2600,"m":1.98e-4},{"k":16,"t":100000,"m":2.1e-4},{"k":16,"t":1000000,"m":2.3e-4},
{"k":17,"t":206.5,"m":6.6e-5},{"k":17,"t":207,"m":1.32e-4},{"k":17,"t":249.5,"m":1.32e-4},{"k":17,"t":250,"m":2.64e-4},{"k":17,"t":10000,"m":2.7e-4},{"k":17,"t":100000,"m":2.95e-4},{"k":17,"t":150000,"m":3.3e-4},{"k":17,"t":200000,"m":4e-4},{"k":17,"t":250000,"m":4.5e-4},{"k":17,"t":300000,"m":4.8e-4},{"k":17,"t":350000,"m":5.5e-4},{"k":17,"t":450000,"m":7.5e-4},{"k":17,"t":550000,"m":9.5e-4},{"k":17,"t":650000,"m":1.15e-3},{"k":17,"t":750000,"m":1.35e-3},{"k":17,"t":850000,"m":1.6e-3},{"k":17,"t":930000,"m":1.9e-3},{"k":17,"t":1000000,"m":2.15e-3},
{"k":18,"t":220.5,"m":6.6e-5},{"k":18,"t":221,"m":1.32e-4},{"k":18,"t":282,"m":1.32e-4},{"k":18,"t":390,"m":2.64e-4},{"k":18,"t":10000,"m":2.7e-4},{"k":18,"t":110000,"m":3e-4},{"k":18,"t":200000,"m":3.4e-4},{"k":18,"t":300000,"m":4e-4},{"k":18,"t":400000,"m":5e-4},{"k":18,"t":500000,"m":6.5e-4},{"k":18,"t":600000,"m":8e-4},{"k":18,"t":700000,"m":9.5e-4},{"k":18,"t":800000,"m":1.12e-3},{"k":18,"t":900000,"m":1.3e-3},{"k":18,"t":1000000,"m":1.6e-3},
{"k":19,"t":264.5,"m":6.6e-5},{"k":19,"t":265,"m":1.32e-4},{"k":19,"t":100000,"m":1.37e-4},{"k":19,"t":120000,"m":2.1e-4},{"k":19,"t":200000,"m":2.5e-4},{"k":19,"t":300000,"m":3e-4},{"k":19,"t":450000,"m":4e-4},{"k":19,"t":600000,"m":5.5e-4},{"k":19,"t":750000,"m":7e-4},{"k":19,"t":900000,"m":9.5e-4},{"k":19,"t":1000000,"m":1.15e-3},
{"k":20,"t":283,"m":6.6e-5},{"k":20,"t":390,"m":1.32e-4},{"k":20,"t":100000,"m":1.38e-4},{"k":20,"t":125000,"m":2e-4},{"k":20,"t":250000,"m":2.4e-4},{"k":20,"t":400000,"m":3e-4},{"k":20,"t":600000,"m":3.8e-4},{"k":20,"t":800000,"m":5e-4},{"k":20,"t":1000000,"m":6e-4},
{"k":21,"t":980,"m":6.6e-5},{"k":21,"t":1090,"m":1.32e-4},{"k":21,"t":150000,"m":1.4e-4},{"k":21,"t":160000,"m":2e-4},{"k":21,"t":400000,"m":2.5e-4},{"k":21,"t":700000,"m":3.2e-4},{"k":21,"t":1000000,"m":4e-4},
{"k":22,"t":1000,"m":6.6e-5},{"k":22,"t":1250,"m":1.32e-4},{"k":22,"t":200000,"m":1.42e-4},{"k":22,"t":210000,"m":2.05e-4},{"k":22,"t":600000,"m":2.6e-4},{"k":22,"t":1000000,"m":3.5e-4},
{"k":23,"t":10200,"m":6.6e-5},{"k":23,"t":10300,"m":1.32e-4},{"k":23,"t":300000,"m":1.45e-4},{"k":23,"t":310000,"m":2.1e-4},{"k":23,"t":1000000,"m":2.9e-4},
{"k":24,"t":10400,"m":1.32e-4},{"k":24,"t":10500,"m":1.98e-4},{"k":24,"t":1000000,"m":2.3e-4},
{"k":25,"t":12600,"m":6.6e-5},{"k":25,"t":12700,"m":1.32e-4},{"k":25,"t":1000000,"m":1.45e-4},
{"k":26,"t":24000,"m":1.32e-4},{"k":26,"t":24300,"m":1.98e-4},{"k":26,"t":1000000,"m":2.2e-4},
{"k":27,"t":26600,"m":1.32e-4},{"k":27,"t":26800,"m":1.98e-4},{"k":27,"t":1000000,"m":2.35e-4},
{"k":28,"t":32800,"m":6.6e-5},{"k":28,"t":33000,"m":1.32e-4},{"k":28,"t":1000000,"m":1.43e-4},
{"k":29,"t":113000,"m":6.6e-5},{"k":29,"t":114000,"m":1.32e-4},{"k":29,"t":1000000,"m":1.47e-4},
{"k":30,"t":158000,"m":6.6e-5},{"k":30,"t":159000,"m":1.32e-4},{"k":30,"t":1000000,"m":1.45e-4},
{"k":31,"t":179000,"m":6.6e-5},{"k":31,"t":180000,"m":1.32e-4},{"k":31,"t":1000000,"m":1.4e-4},
{"k":32,"t":220000,"m":1.32e-4},{"k":32,"t":221000,"m":1.98e-4},{"k":32,"t":1000000,"m":2.1e-4},
{"k":33,"t":282000,"m":6.6e-5},{"k":33,"t":283000,"m":1.32e-4},{"k":33,"t":1000000,"m":1.42e-4},
{"k":34,"t":348000,"m":1.32e-4},{"k":34,"t":350000,"m":1.98e-4},{"k":34,"t":1000000,"m":2.15e-4},
{"k":35,"t":408000,"m":6.6e-5},{"k":35,"t":410000,"m":1.32e-4},{"k":35,"t":1000000,"m":1.45e-4},
{"k":36,"t":528000,"m":6.6e-5},{"k":36,"t":530000,"m":1.32e-4},{"k":36,"t":1000000,"m":1.4e-4},
{"k":37,"t":715000,"m":6.6e-5},{"k":37,"t":720000,"m":1.32e-4},{"k":37,"t":1000000,"m":1.4e-4},
{"k":38,"t":780000,"m":1.32e-4},{"k":38,"t":782000,"m":1.98e-4},{"k":38,"t":1000000,"m":2.05e-4},
{"k":39,"t":850000,"m":6.6e-5},{"k":39,"t":852000,"m":1.32e-4},{"k":39,"t":1000000,"m":1.4e-4},
{"k":40,"t":920000,"m":6.6e-5},{"k":40,"t":922000,"m":1.32e-4},{"k":40,"t":1000000,"m":1.38e-4},
{"k":41,"t":600000,"m":6.6e-5},{"k":41,"t":602000,"m":1.32e-4},{"k":41,"t":1000000,"m":1.4e-4},
{"k":42,"t":470000,"m":1.32e-4},{"k":42,"t":472000,"m":1.98e-4},{"k":42,"t":1000000,"m":2.1e-4},
{"k":43,"t":240000,"m":6.6e-5},{"k":43,"t":241000,"m":1.32e-4},{"k":43,"t":1000000,"m":1.45e-4},
{"k":44,"t":320000,"m":6.6e-5},{"k":44,"t":321000,"m":1.32e-4},{"k":44,"t":1000000,"m":1.4e-4},
{"k":45,"t":165000,"m":1.32e-4},{"k":45,"t":166000,"m":1.98e-4},{"k":45,"t":1000000,"m":2.2e-4},
{"k":46,"t":203000,"m":6.6e-5},{"k":46,"t":204000,"m":1.32e-4},{"k":46,"t":1000000,"m":1.43e-4},
{"k":47,"t":18100,"m":6.6e-5},{"k":47,"t":18200,"m":1.32e-4},{"k":47,"t":1000000,"m":1.44e-4},
{"k":49,"t":249.5,"m":6.6e-5},{"k":49,"t":250,"m":1.32e-4},{"k":49,"t":1000000,"m":1.44e-4},
{"k":50,"t":270,"m":6.6e-5},{"k":50,"t":272,"m":1.32e-4},{"k":50,"t":283,"m":1.32e-4},
{"k":51,"t":235.5,"m":6.6e-5},{"k":51,"t":236,"m":1.32e-4},{"k":51,"t":1000000,"m":1.41e-4},
{"k":52,"t":160.5,"m":6.6e-5},{"k":52,"t":161,"m":1.32e-4},{"k":52,"t":1000000,"m":1.42e-4},
{"k":54,"t":3900,"m":6.6e-5},{"k":54,"t":3930,"m":1.32e-4},{"k":54,"t":1000000,"m":1.42e-4}
],
"pb":[
{"t":20.5,"m":6.6e-5},{"t":32,"m":6.6e-5},{"t":54,"m":6.6e-5},{"t":61,"m":6.6e-5},{"t":71,"m":6.6e-5},{"t":86,"m":6.6e-5},{"t":101,"m":6.6e-5},{"t":107,"m":6.6e-5},{"t":114,"m":6.6e-5},{"t":124,"m":6.6e-5},{"t":134,"m":6.6e-5},{"t":143,"m":6.6e-5},{"t":152,"m":6.6e-5},{"t":161,"m":6.6e-5},{"t":172,"m":6.6e-5},{"t":184,"m":6.6e-5},{"t":195,"m":6.6e-5},{"t":207,"m":6.6e-5},{"t":221,"m":6.6e-5},{"t":236,"m":6.6e-5},{"t":250,"m":6.6e-5},{"t":265,"m":6.6e-5},{"t":283,"m":6.6e-5},{"t":980,"m":6.6e-5},{"t":1090,"m":6.6e-5},{"t":2600,"m":6.6e-5},{"t":3190,"m":6.6e-5},{"t":3930,"m":6.6e-5},{"t":5110,"m":6.6e-5},{"t":6040,"m":6.6e-5},{"t":10300,"m":6.6e-5},{"t":10800,"m":6.6e-5},{"t":12700,"m":6.6e-5},{"t":18200,"m":6.6e-5},{"t":24300,"m":6.6e-5},{"t":26800,"m":6.6e-5},{"t":33000,"m":6.6e-5},{"t":36700,"m":6.6e-5},{"t":59000,"m":6.6e-5},{"t":75000,"m":6.6e-5},{"t":91000,"m":6.6e-5},{"t":114000,"m":6.6e-5},{"t":159000,"m":6.6e-5},{"t":165000,"m":6.6e-5},{"t":180000,"m":6.6e-5},{"t":203000,"m":6.6e-5},{"t":221000,"m":6.6e-5},{"t":240000,"m":6.6e-5},{"t":283000,"m":6.6e-5},{"t":320000,"m":6.6e-5},{"t":350000,"m":6.6e-5},{"t":410000,"m":6.6e-5},{"t":470000,"m":6.6e-5},{"t":530000,"m":6.6e-5},{"t":600000,"m":6.6e-5},{"t":720000,"m":6.6e-5},{"t":780000,"m":6.6e-5},{"t":850000,"m":6.6e-5},{"t":920000,"m":6.6e-5},{"t":990000,"m":6.6e-5},
{"t":283,"m":1.32e-4},{"t":124000,"m":1.32e-4},{"t":146000,"m":1.32e-4},{"t":172000,"m":1.32e-4},{"t":660000,"m":1.36e-4},{"t":870000,"m":1.37e-4},{"t":240000,"m":2e-4}
]
},
"hconcat":[
{"width":498,"height":303,
 "encoding":{
  "x":{"field":"t","type":"quantitative","scale":{"type":"log","domain":[10,1000000],"nice":false},
   "axis":{"title":"Time (yr)","values":[10,20,30,40,50,60,70,80,90,100,200,300,400,500,600,700,800,900,1000,2000,3000,4000,5000,6000,7000,8000,9000,10000,20000,30000,40000,50000,60000,70000,80000,90000,100000,200000,300000,400000,500000,600000,700000,800000,900000,1000000],
    "labelExpr":"datum.value == 10 ? '10' : datum.value == 100 ? '10²' : datum.value == 1000 ? '10³' : datum.value == 10000 ? '10⁴' : datum.value == 100000 ? '10⁵' : datum.value == 1000000 ? '10⁶' : ''",
    "tickSize":{"condition":{"test":"indexof([10,100,1000,10000,100000,1000000], datum.value) >= 0","value":5},"value":3}}},
  "y":{"field":"m","type":"quantitative","scale":{"type":"log","domain":[4.9e-5,3.92],"nice":false},
   "axis":{"title":"Mass (M⊕)","values":[0.00006,0.00007,0.00008,0.00009,0.0001,0.0002,0.0003,0.0004,0.0005,0.0006,0.0007,0.0008,0.0009,0.001,0.002,0.003,0.004,0.005,0.006,0.007,0.008,0.009,0.01,0.02,0.03,0.04,0.05,0.06,0.07,0.08,0.09,0.1,0.2,0.3,0.4,0.5,0.6,0.7,0.8,0.9,1,2,3],
    "labelExpr":"datum.value == 1 ? '1' : datum.value == 0.1 ? '10⁻¹' : datum.value == 0.01 ? '10⁻²' : datum.value == 0.001 ? '10⁻³' : datum.value == 0.0001 ? '10⁻⁴' : ''",
    "tickSize":{"condition":{"test":"indexof([0.0001,0.001,0.01,0.1,1], datum.value) >= 0","value":5},"value":3}}}
 },
 "layer":[
  {"data":{"name":"sa"},"mark":{"type":"line","interpolate":"step-after","color":"#808080","strokeWidth":1,"strokeOpacity":0.35,"clip":true},"encoding":{"detail":{"field":"k","type":"nominal"}}},
  {"data":{"name":"da"},"mark":{"type":"line","color":"#505050","strokeWidth":1,"strokeOpacity":0.55},"encoding":{"detail":{"field":"k","type":"nominal"}}},
  {"data":{"name":"ca"},"mark":{"type":"line","color":"#808080","strokeWidth":1,"strokeOpacity":0.35,"clip":true},"encoding":{}},
  {"data":{"name":"pa"},"mark":{"type":"circle","color":"#ff0000","opacity":0.5,"size":26},"encoding":{}},
  {"data":{"values":[{"t":12.4,"m":2.38,"s":"(a)"}]},"mark":{"type":"text","align":"left","baseline":"middle","fontSize":16,"color":"#000"},"encoding":{"text":{"field":"s"}}}
 ]
},
{"width":497,"height":303,
 "encoding":{
  "x":{"field":"t","type":"quantitative","scale":{"type":"log","domain":[10,1000000],"nice":false},
   "axis":{"title":"Time (yr)","values":[10,20,30,40,50,60,70,80,90,100,200,300,400,500,600,700,800,900,1000,2000,3000,4000,5000,6000,7000,8000,9000,10000,20000,30000,40000,50000,60000,70000,80000,90000,100000,200000,300000,400000,500000,600000,700000,800000,900000,1000000],
    "labelExpr":"datum.value == 10 ? '10' : datum.value == 100 ? '10²' : datum.value == 1000 ? '10³' : datum.value == 10000 ? '10⁴' : datum.value == 100000 ? '10⁵' : datum.value == 1000000 ? '10⁶' : ''",
    "tickSize":{"condition":{"test":"indexof([10,100,1000,10000,100000,1000000], datum.value) >= 0","value":5},"value":3}}},
  "y":{"field":"m","type":"quantitative","scale":{"type":"log","domain":[4.9e-5,3.92],"nice":false},
   "axis":{"title":"Mass (M⊕)","values":[0.00006,0.00007,0.00008,0.00009,0.0001,0.0002,0.0003,0.0004,0.0005,0.0006,0.0007,0.0008,0.0009,0.001,0.002,0.003,0.004,0.005,0.006,0.007,0.008,0.009,0.01,0.02,0.03,0.04,0.05,0.06,0.07,0.08,0.09,0.1,0.2,0.3,0.4,0.5,0.6,0.7,0.8,0.9,1,2,3],
    "labelExpr":"datum.value == 1 ? '1' : datum.value == 0.1 ? '10⁻¹' : datum.value == 0.01 ? '10⁻²' : datum.value == 0.001 ? '10⁻³' : datum.value == 0.0001 ? '10⁻⁴' : ''",
    "tickSize":{"condition":{"test":"indexof([0.0001,0.001,0.01,0.1,1], datum.value) >= 0","value":5},"value":3}}}
 },
 "layer":[
  {"data":{"name":"lb"},"mark":{"type":"line","color":"#808080","strokeWidth":1,"strokeOpacity":0.35,"clip":true},"encoding":{"detail":{"field":"k","type":"nominal"}}},
  {"data":{"name":"pb"},"mark":{"type":"circle","color":"#ff0000","opacity":0.4,"size":24},"encoding":{}},
  {"data":{"values":[{"t":11.9,"m":2.38,"s":"(b)"}]},"mark":{"type":"text","align":"left","baseline":"middle","fontSize":16,"color":"#000"},"encoding":{"text":{"field":"s"}}}
 ]
}
]
}
